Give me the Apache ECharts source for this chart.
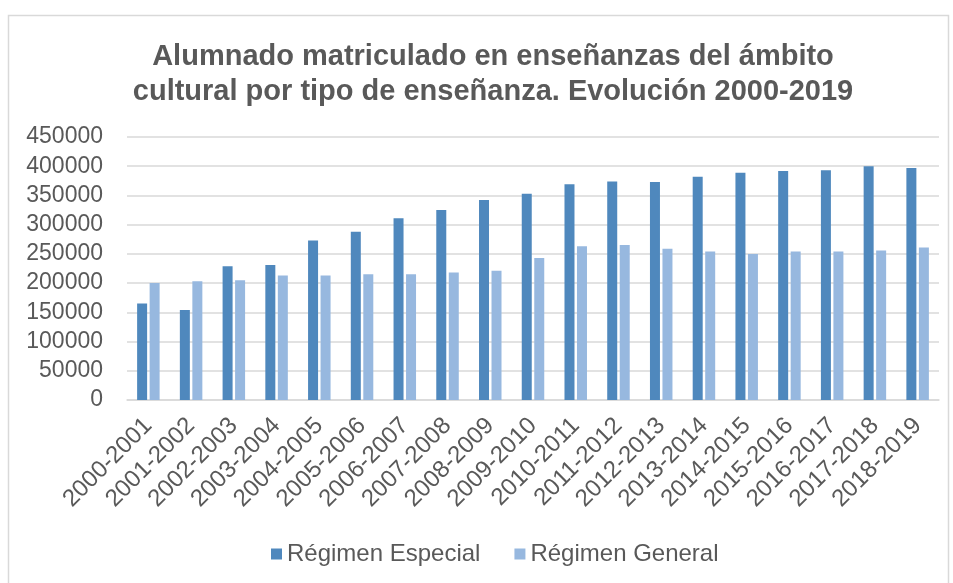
<!DOCTYPE html>
<html>
<head>
<meta charset="utf-8">
<script src="https://cdn.jsdelivr.net/npm/echarts@6/dist/echarts.min.js"></script>
<style>
  html, body { margin: 0; padding: 0; background: #fff; }
  #main { width: 953px; height: 583px; }
</style>
</head>
<body>
<div id="main"></div>
<script>
// cursos académicos
const cursos = ['2000-2001', '2001-2002', '2002-2003', '2003-2004', '2004-2005',
  '2005-2006', '2006-2007', '2007-2008', '2008-2009', '2009-2010', '2010-2011',
  '2011-2012', '2012-2013', '2013-2014', '2014-2015', '2015-2016', '2016-2017',
  '2017-2018', '2018-2019'];

// valores
const regimenEspecial = [165000, 154000, 229000, 231000, 273000, 288000, 311000,
  325000, 342000, 353000, 369000, 374000, 373000, 382000, 389000, 392000, 393000,
  400000, 397000];
const regimenGeneral = [200000, 203000, 205000, 213000, 213000, 215000, 215000,
  218000, 221000, 243000, 263000, 265000, 259000, 254000, 250000, 254000, 254000,
  256000, 261000];

const textColor = '#595959';
const font = 'Liberation Sans, Arial, sans-serif';

let chart = echarts.init(document.getElementById('main'));

let option = {
    backgroundColor: '#fff',
    animation: false,
    textStyle: {fontFamily: font},
    graphic: [{
        type: 'rect',
        shape: {x: 8.5, y: 15.5, width: 940, height: 580},
        style: {fill: 'none', stroke: '#d9d9d9', lineWidth: 1.5},
        silent: true
    }],
    title: {
        text: 'Alumnado matriculado en enseñanzas del ámbito\ncultural por tipo de enseñanza. Evolución 2000-2019',
        left: 488,
        top: 34,
        textAlign: 'center',
        textStyle: {
            color: textColor,
            fontFamily: font,
            fontSize: 29,
            fontWeight: 'bold',
            lineHeight: 35
        }
    },
    legend: {
        top: 537,
        left: 266,
        itemWidth: 11,
        itemHeight: 11,
        itemGap: 34,
        icon: 'rect',
        textStyle: {color: textColor, fontSize: 24, fontFamily: font},
        data: ['Régimen Especial', 'Régimen General']
    },
    grid: {
        left: 127,
        right: 14,
        top: 137,
        bottom: 183
    },
    xAxis: {
        type: 'category',
        data: cursos,
        axisTick: {show: false},
        axisLine: {lineStyle: {color: '#d9d9d9', width: 1.5}},
        axisLabel: {
            color: textColor,
            fontSize: 24,
            rotate: 45,
            interval: 0,
            margin: 22
        }
    },
    yAxis: {
        type: 'value',
        min: 0,
        max: 450000,
        interval: 50000,
        axisLine: {show: false},
        axisTick: {show: false},
        splitLine: {lineStyle: {color: '#d9d9d9', width: 1.5}},
        axisLabel: {
            color: textColor,
            fontSize: 23,
            margin: 24,
            formatter: (v) => String(v)
        }
    },
    series: [{
        name: 'Régimen Especial',
        type: 'bar',
        data: regimenEspecial,
        barWidth: 10,
        barGap: '25%',
        itemStyle: {color: '#4f88bd'}
    }, {
        name: 'Régimen General',
        type: 'bar',
        data: regimenGeneral,
        barWidth: 10,
        itemStyle: {color: '#97b8df'}
    }]
};

chart.setOption(option);
</script>
</body>
</html>
